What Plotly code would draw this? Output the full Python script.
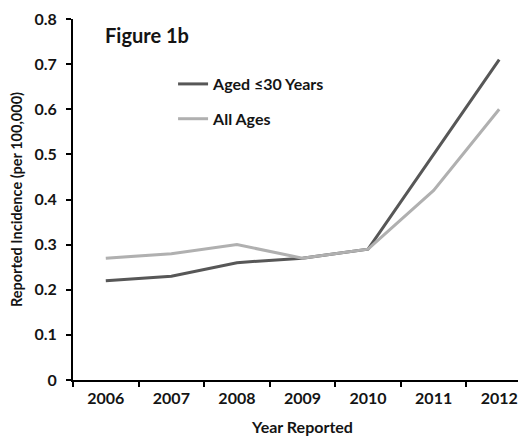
import plotly.graph_objects as go

years = ["2006", "2007", "2008", "2009", "2010", "2011", "2012"]
aged_30 = [0.22, 0.23, 0.26, 0.27, 0.29, 0.50, 0.71]
all_ages = [0.27, 0.28, 0.30, 0.27, 0.29, 0.42, 0.60]
y_ticks = [0, 0.1, 0.2, 0.3, 0.4, 0.5, 0.6, 0.7, 0.8]
y_labels = ["0", "0.1", "0.2", "0.3", "0.4", "0.5", "0.6", "0.7", "0.8"]

FONT = "Lato"
TXT = "#141414"

fig = go.Figure()
fig.add_trace(go.Scatter(x=years, y=aged_30, mode="lines", name="Aged ≤30 Years",
                         legendgroup="a", line=dict(color="#575757", width=3)))
fig.add_trace(go.Scatter(x=years, y=all_ages, mode="lines", name="All Ages",
                         legendgroup="b", line=dict(color="#b0b0b0", width=3)))

fig.update_layout(
    width=526, height=438,
    margin=dict(l=65, r=2, t=11, b=66),
    paper_bgcolor="white", plot_bgcolor="white",
    font=dict(family=FONT, color=TXT, size=16, weight="bold"),
    showlegend=True,
    legend=dict(x=0.218, y=0.867, xanchor="left", yanchor="top",
                bgcolor="rgba(0,0,0,0)", borderwidth=0,
                tracegroupgap=11, traceorder="grouped",
                font=dict(family=FONT, size=16, color=TXT, weight="bold")),
    title=dict(text="Figure 1b", x=97 / 526, xanchor="left",
               y=1 - 28 / 438, yanchor="middle",
               font=dict(family=FONT, size=20, color=TXT, weight="bold")),
)

fig.update_xaxes(
    type="category", range=[-0.5, 6.5], automargin=False,
    showline=True, linecolor="black", linewidth=2,
    ticks="outside", tickson="boundaries", ticklen=5, tickwidth=2, tickcolor="black",
    ticklabelstandoff=3,
    showgrid=False, zeroline=False,
    tickfont=dict(family=FONT, size=16, color=TXT, weight="bold"),
    title=dict(text="Year Reported", standoff=16,
               font=dict(family=FONT, size=16, color=TXT, weight="bold")),
)
fig.update_yaxes(
    range=[0, 0.8], tickvals=y_ticks, ticktext=y_labels, automargin=False,
    showline=True, linecolor="black", linewidth=2,
    ticks="outside", ticklen=5, tickwidth=2, tickcolor="black",
    ticklabelstandoff=6,
    showgrid=False, zeroline=False,
    tickfont=dict(family=FONT, size=16, color=TXT, weight="bold"),
    title=dict(text="Reported Incidence (per 100,000)", standoff=10,
               font=dict(family=FONT, size=14.5, color=TXT, weight="bold")),
)

fig.write_html("out.html")
